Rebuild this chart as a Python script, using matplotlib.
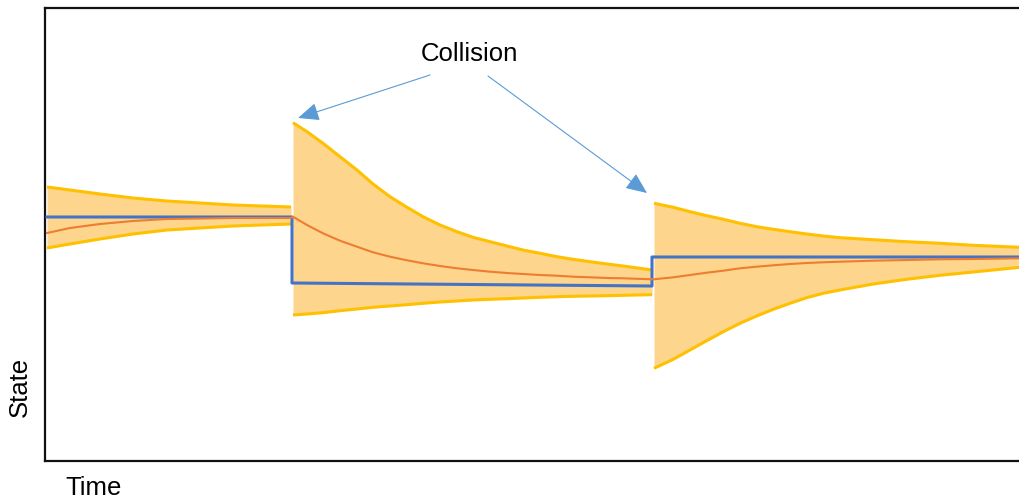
import matplotlib
matplotlib.use("Agg")
import matplotlib.pyplot as plt

plt.rcParams['font.family'] = ['Liberation Sans', 'DejaVu Sans']

# state estimate between collisions (arbitrary units)
t1 = [2, 25, 55, 88, 122, 155, 188, 217, 246]
upper1 = [274, 271, 267, 263, 260, 258, 256, 255, 254]
lower1 = [213, 217, 222, 227, 231, 233, 235, 236, 237]
mean1 = [228, 233, 237, 240, 242, 242.5, 243, 243, 243]

t2 = [248, 262, 278, 295, 312, 328, 345, 362, 378, 395, 412,
      428, 445, 462, 478, 495, 512, 528, 545, 562, 578, 607]
upper2 = [338.3, 329.3, 317.7, 304.3, 291, 277, 264.3, 253.7, 244.3, 236, 229.3,
          223.7, 219.3, 215, 211, 207.7, 204.3, 201.7, 199.3, 197, 195, 191]
lower2 = [146, 147, 148.3, 150.3, 152, 153.7, 155, 156.3, 157.7, 159, 160,
          161, 161.7, 162.3, 163, 163.7, 164.3, 164.7, 165, 165.3, 165.7, 166.3]
mean2 = [244.3, 236, 227.7, 220.3, 214.3, 208.7, 204.3, 200.7, 197.7, 195, 192.7,
         191, 189.3, 188, 187, 186, 185.3, 184.3, 183.7, 183, 182.7, 181.7]

t3 = [609, 628.3, 645, 661.7, 678.3, 695, 711.7, 728.3, 745, 761.7, 778.3,
      795, 828.3, 861.7, 895, 928.3, 975]
upper3 = [257.7, 253.7, 249.3, 245.3, 241.7, 237.7, 234.3, 231.7, 229.3, 227, 225,
          223.3, 221.3, 219.3, 217.7, 215.7, 213.7]
lower3 = [92.7, 101.7, 111, 120.3, 129.3, 137.7, 145, 151.7, 157.7, 163.3, 167.7,
          171, 177, 181.7, 185.7, 189, 193.7]
mean3 = [181.7, 183.7, 186, 188.3, 190.3, 192.7, 194.3, 195.7, 197, 198, 198.7,
         199.3, 200.3, 201, 201.7, 202, 202.7]

# true state, jumps at each collision
true_t = [2, 247, 247, 607, 607, 975]
true_state = [244, 244, 178, 175, 204, 204]

collision_tips = [(253, 343), (602, 268)]

band_fill = '#FDD58C'
band_edge = '#FFC000'

fig = plt.figure(figsize=(10.2, 5.01), dpi=100)
ax = fig.add_axes([45 / 1020, 40 / 501, 975 / 1020, 453 / 501])

for t, up, lo in [(t1, upper1, lower1), (t2, upper2, lower2), (t3, upper3, lower3)]:
    ax.fill_between(t, lo, up, color=band_fill, lw=0, zorder=1)
    ax.plot(t, up, color=band_edge, lw=2.2, solid_capstyle='butt', zorder=2)
    ax.plot(t, lo, color=band_edge, lw=2.2, solid_capstyle='butt', zorder=2)

ax.plot(true_t, true_state, color='#4472C4', lw=2.2, zorder=3)
ax.plot(t1 + t2 + t3, mean1 + mean2 + mean3, color='#ED7D31', lw=1.5, zorder=4)

ax.text(424, 407, 'Collision', fontsize=18.5, ha='center', va='center')
for tip, tail in zip(collision_tips, [(385, 386), (443, 385)]):
    ax.annotate('', xy=tip, xytext=tail,
                arrowprops=dict(arrowstyle='-|>,head_length=0.65,head_width=0.28',
                                mutation_scale=20, color='#5B9BD5', lw=0.8,
                                shrinkA=0, shrinkB=0))

ax.set_xlim(0, 975)
ax.set_ylim(0, 453)
ax.set_xticks([])
ax.set_yticks([])
ax.spines['right'].set_visible(False)
for side in ['left', 'bottom', 'top']:
    ax.spines[side].set_linewidth(1.6)
    ax.spines[side].set_color('#111111')

fig.text(20 / 1020, 1 - 387 / 501, 'State', rotation=90, fontsize=18.5,
         ha='center', va='center')
fig.text(65 / 1020, 1 - 488 / 501, 'Time', fontsize=18.5, ha='left', va='center')

fig.savefig('out.png', dpi=100)
